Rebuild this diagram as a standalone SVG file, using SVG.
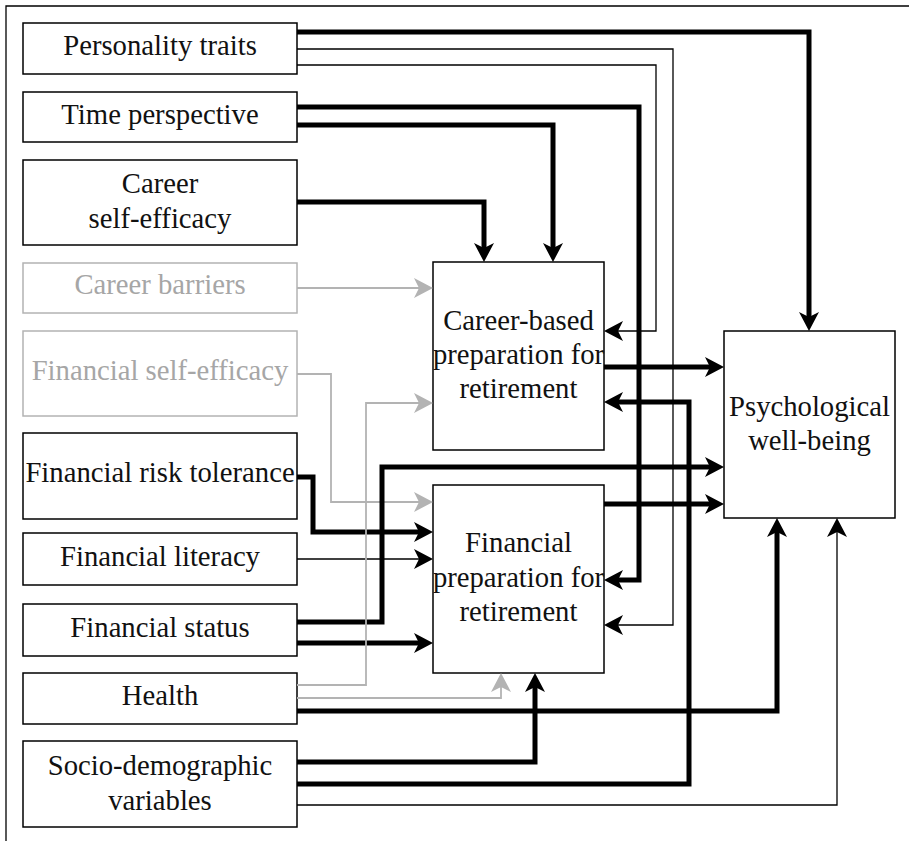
<svg xmlns="http://www.w3.org/2000/svg" width="909" height="841" viewBox="0 0 909 841">
<style>
.box{fill:#fff;stroke:#000;stroke-width:1.5}
.gbox{fill:#fff;stroke:#b3b3b3;stroke-width:1.5}
.t{font-family:"Liberation Serif","Times New Roman",serif;font-size:28.7px;fill:#111;text-anchor:middle}
.gt{fill:#a6a6a6}
.thick{fill:none;stroke:#000;stroke-width:5}
.thin{fill:none;stroke:#000;stroke-width:1.3}
.gray{fill:none;stroke:#b3b3b3;stroke-width:1.8}
.ab{marker-end:url(#arrB)}
.ag{marker-end:url(#arrG)}
</style>
<defs>
<marker id="arrB" markerUnits="userSpaceOnUse" markerWidth="20" markerHeight="20" refX="5" refY="10" orient="auto" overflow="visible">
<path d="M5,10 L0,0 L19,10 L0,20 Z" fill="#000"/>
</marker>
<marker id="arrG" markerUnits="userSpaceOnUse" markerWidth="20" markerHeight="20" refX="5" refY="10" orient="auto" overflow="visible">
<path d="M5,10 L0,0 L19,10 L0,20 Z" fill="#b3b3b3"/>
</marker>
</defs>
<rect width="909" height="841" fill="#fff"/>
<path d="M6,841 V6 H909" fill="none" stroke="#000" stroke-width="1.3"/>

<g id="personality"><rect class="box" x="23" y="23" width="274" height="51"/><text class="t" x="160" y="55">Personality traits</text></g>
<g id="time"><rect class="box" x="23" y="92" width="274" height="50"/><text class="t" x="160" y="124">Time perspective</text></g>
<g id="careerse"><rect class="box" x="23" y="160" width="274" height="85"/><text class="t" x="160" y="193">Career</text><text class="t" x="160" y="228">self-efficacy</text></g>
<g id="barriers"><rect class="gbox" x="23" y="263" width="274" height="50"/><text class="t gt" x="160" y="294">Career barriers</text></g>
<g id="finse"><rect class="gbox" x="23" y="331" width="274" height="85"/><text class="t gt" x="160" y="380">Financial self-efficacy</text></g>
<g id="risk"><rect class="box" x="23" y="433" width="274" height="86"/><text class="t" x="160" y="482">Financial risk tolerance</text></g>
<g id="literacy"><rect class="box" x="23" y="533" width="274" height="52"/><text class="t" x="160" y="566">Financial literacy</text></g>
<g id="status"><rect class="box" x="23" y="604" width="274" height="52"/><text class="t" x="160" y="637">Financial status</text></g>
<g id="health"><rect class="box" x="23" y="673" width="274" height="51"/><text class="t" x="160" y="705">Health</text></g>
<g id="socio"><rect class="box" x="23" y="741" width="274" height="86"/><text class="t" x="160" y="775">Socio-demographic</text><text class="t" x="160" y="810">variables</text></g>

<g id="careerprep"><rect class="box" x="433" y="262" width="171" height="188"/><text class="t" x="518.5" y="330">Career-based</text><text class="t" x="518.5" y="364">preparation for</text><text class="t" x="518.5" y="398">retirement</text></g>
<g id="finprep"><rect class="box" x="433" y="485" width="171" height="188"/><text class="t" x="518.5" y="552">Financial</text><text class="t" x="518.5" y="587">preparation for</text><text class="t" x="518.5" y="621">retirement</text></g>
<g id="wellbeing"><rect class="box" x="724" y="331" width="171" height="187"/><text class="t" x="809.5" y="416">Psychological</text><text class="t" x="809.5" y="450">well-being</text></g>

<g id="connectors">
<path class="thick ab" d="M297,32 H809 V317"/>
<path class="thin ab" d="M297,49 H673 V625 H618"/>
<path class="thin ab" d="M297,65 H656 V331 H618"/>
<path class="thick ab" d="M297,107 H639 V580 H618"/>
<path class="thick ab" d="M297,125 H553 V248"/>
<path class="thick ab" d="M297,202 H484 V248"/>
<path class="gray ag" d="M297,288 H419"/>
<path class="gray ag" d="M297,374 H331 V502 H419"/>
<path class="thick ab" d="M297,477 H313 V532 H419"/>
<path class="thin ab" d="M297,559 H419"/>
<path class="thick ab" d="M297,622 H382 V467 H710"/>
<path class="thick ab" d="M297,643 H419"/>
<path class="gray ag" d="M297,685 H366 V403 H419"/>
<path class="gray ag" d="M297,698 H501 V687"/>
<path class="thick ab" d="M297,711 H777 V532"/>
<path class="thick ab" d="M297,762 H535 V687"/>
<path class="thick ab" d="M297,784 H689 V402 H618"/>
<path class="thin ab" d="M297,805 H837 V532"/>
<path class="thick ab" d="M604,367 H710"/>
<path class="thick ab" d="M604,504 H710"/>
</g>
</svg>
